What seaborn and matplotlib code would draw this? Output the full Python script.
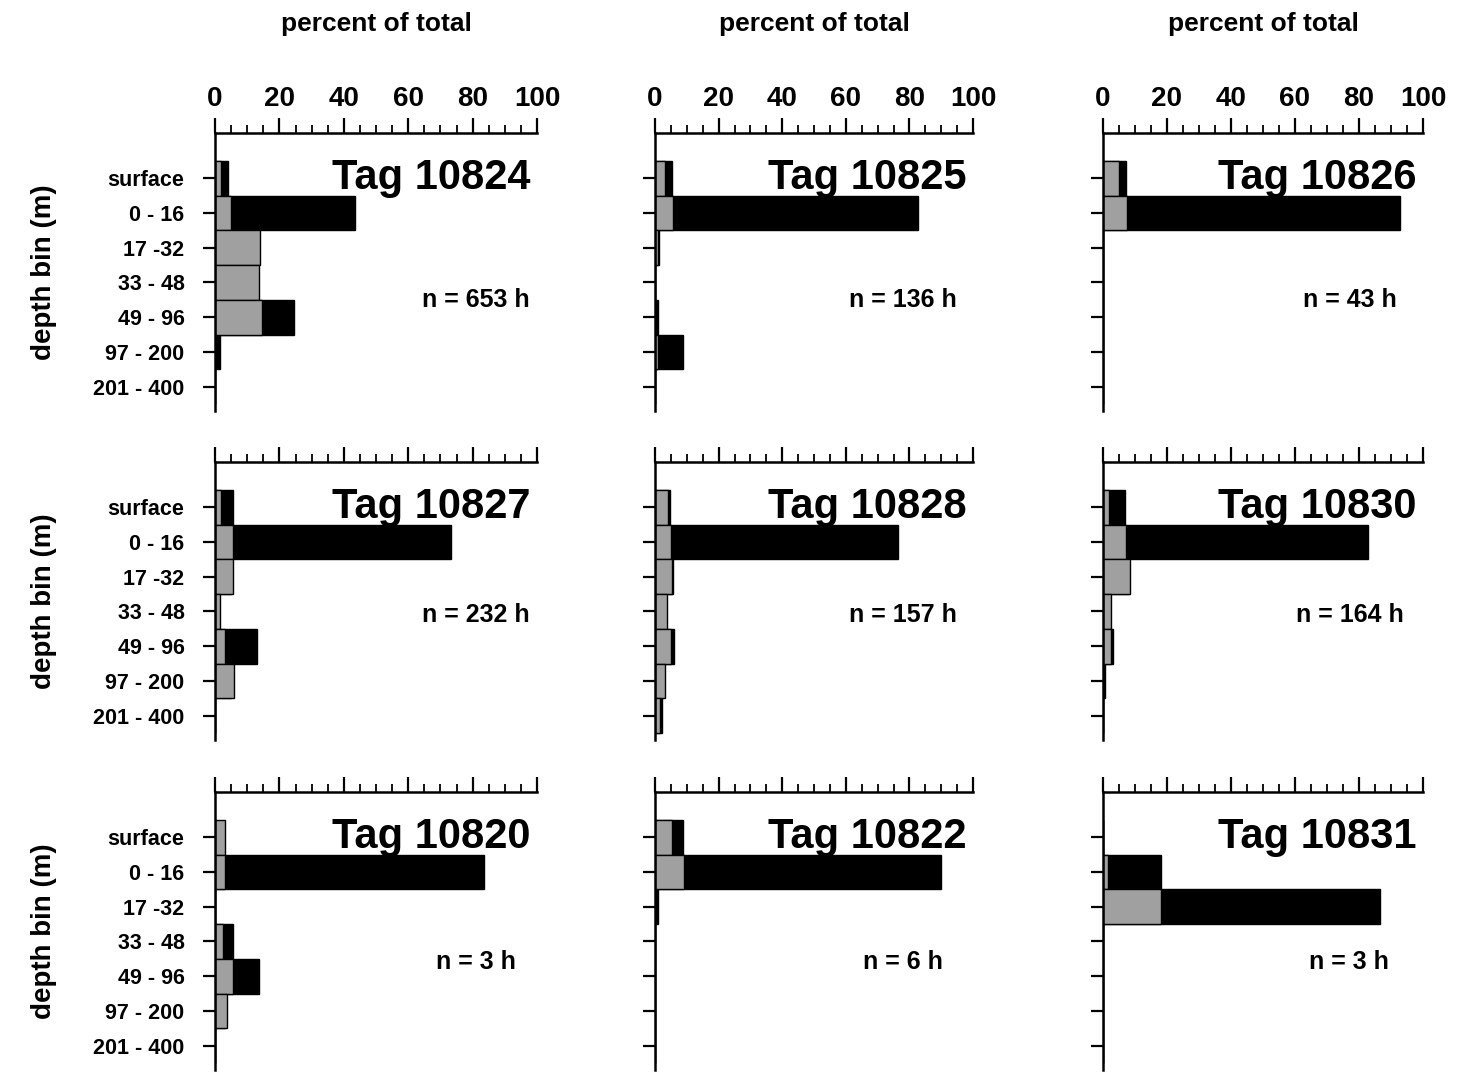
import numpy as np
import pandas as pd
import seaborn as sns
import matplotlib.pyplot as plt
from matplotlib.ticker import MultipleLocator

# depth bins (y categories)
depth_bins = ["surface", "0 - 16", "17 -32", "33 - 48", "49 - 96", "97 - 200", "201 - 400"]

# panels in reading order (row by row)
tags = ["Tag 10824", "Tag 10825", "Tag 10826",
        "Tag 10827", "Tag 10828", "Tag 10830",
        "Tag 10820", "Tag 10822", "Tag 10831"]
hours = [653, 136, 43, 232, 157, 164, 3, 6, 3]

# percent of total, dark bars
black_pct = [
    [4.0, 43.5, 12.0, 13.0, 24.5, 1.5, 0.0],
    [5.2, 82.6, 1.3, 0.0, 1.0, 8.7, 0.0],
    [7.2, 92.8, 0.0, 0.0, 0.0, 0.0, 0.0],
    [5.5, 73.2, 5.0, 1.0, 12.9, 5.0, 0.0],
    [4.7, 76.5, 5.8, 3.5, 6.1, 2.6, 2.1],
    [6.9, 82.9, 8.0, 2.0, 3.0, 0.5, 0.0],
    [0.0, 83.5, 0.0, 5.5, 13.8, 3.0, 0.0],
    [8.9, 90.0, 1.0, 0.0, 0.0, 0.0, 0.0],
    [0.0, 18.0, 86.6, 0.0, 0.0, 0.0, 0.0],
]

# percent of total, stippled grey bars
gray_pct = [
    [2.0, 5.0, 14.0, 13.7, 14.5, 0.0, 0.0],
    [3.0, 5.6, 1.0, 0.0, 0.0, 1.0, 0.0],
    [5.0, 7.6, 0.0, 0.0, 0.0, 0.0, 0.0],
    [2.0, 5.7, 5.7, 1.5, 3.0, 6.0, 0.0],
    [4.0, 4.9, 5.2, 3.7, 4.9, 3.1, 1.5],
    [2.0, 7.2, 8.4, 2.5, 2.5, 0.0, 0.0],
    [3.0, 3.0, 0.0, 2.6, 5.7, 3.6, 0.0],
    [5.5, 9.2, 0.0, 0.0, 0.0, 0.0, 0.0],
    [0.0, 1.5, 18.1, 0.0, 0.0, 0.0, 0.0],
]

sns.set_style("ticks")
plt.rcParams['font.family'] = ['Liberation Sans', 'DejaVu Sans']
plt.rcParams['font.weight'] = 'bold'
plt.rcParams['axes.labelweight'] = 'bold'
for k in ['text.color', 'axes.labelcolor', 'xtick.color', 'ytick.color']:
    plt.rcParams[k] = 'black'

W, H = 1461, 1088
fig = plt.figure(figsize=(W / 100, H / 100), dpi=100)

col_px = [(215, 537), (655, 973), (1103, 1423)]
row_px = [(133, 411), (462, 740), (792, 1070)]
n_x = [81, 78, 77]
n_y = [3.5, 3.1, 3.6]

for i, tag in enumerate(tags):
    r, c = divmod(i, 3)
    x0, x1 = col_px[c]
    y0, y1 = row_px[r]
    ax = fig.add_axes([x0 / W, 1 - y1 / H, (x1 - x0) / W, (y1 - y0) / H])

    df = pd.DataFrame({"depth": depth_bins, "black": black_pct[i], "gray": gray_pct[i]})
    sns.barplot(data=df, x="black", y="depth", order=depth_bins, orient="h",
                color="black", width=1.0, saturation=1, errorbar=None,
                edgecolor="black", linewidth=1, ax=ax)
    sns.barplot(data=df, x="gray", y="depth", order=depth_bins, orient="h",
                color="#a0a0a0", width=1.0, saturation=1, errorbar=None,
                edgecolor="black", linewidth=1, ax=ax)

    ax.set_xlim(0, 100)
    ax.set_ylim(6.7, -1.3)
    for s in ["right", "bottom"]:
        ax.spines[s].set_visible(False)
    for s in ["top", "left"]:
        ax.spines[s].set_linewidth(1.8)
        ax.spines[s].set_color("black")

    ax.xaxis.tick_top()
    ax.xaxis.set_major_locator(MultipleLocator(20))
    ax.xaxis.set_minor_locator(MultipleLocator(5))
    ax.tick_params(axis="x", which="major", length=11, width=1.6,
                   labelsize=20, pad=4, top=True, bottom=False)
    ax.tick_params(axis="x", which="minor", length=6, width=1.3,
                   top=True, bottom=False)
    ax.tick_params(axis="y", length=9, width=1.6, labelsize=15.5, pad=13)

    ax.set_xlabel("")
    ax.set_ylabel("")
    if r == 0:
        ax.xaxis.set_label_position("top")
        ax.set_xlabel("percent of total", fontsize=19, fontweight="bold", labelpad=40)
    else:
        ax.tick_params(axis="x", labeltop=False)
    if c == 0:
        ax.set_ylabel("depth bin (m)", fontsize=20, fontweight="bold", labelpad=26)
    else:
        ax.tick_params(axis="y", labelleft=False)

    ax.text(98, 0.0, tag, ha="right", va="center", fontsize=30, fontweight="bold")
    ax.text(n_x[c], n_y[r], f"n = {hours[i]} h", ha="center", va="center", fontsize=18)

plt.savefig("out.png", dpi=100)
